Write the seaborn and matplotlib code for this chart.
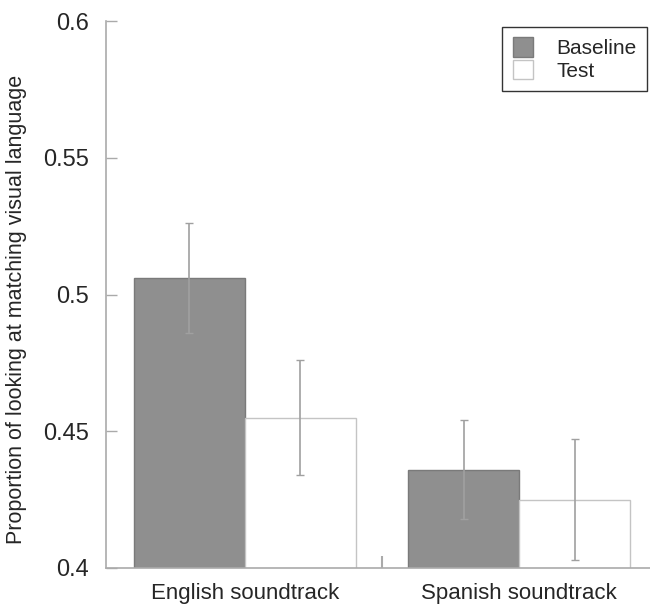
import matplotlib
matplotlib.use("Agg")
import matplotlib.pyplot as plt
import seaborn as sns
import pandas as pd
import numpy as np

# values
soundtracks = ["English soundtrack", "Spanish soundtrack"]
phases = ["Baseline", "Test"]
baseline_mean = [0.506, 0.436]
test_mean = [0.455, 0.425]
baseline_low = [0.486, 0.418]
baseline_high = [0.526, 0.454]
test_low = [0.434, 0.403]
test_high = [0.476, 0.447]

df = pd.DataFrame({
    "soundtrack": soundtracks * 2,
    "phase": [phases[0]] * 2 + [phases[1]] * 2,
    "prop": baseline_mean + test_mean,
    "low": baseline_low + test_low,
    "high": baseline_high + test_high,
})

sns.set_style("white")
plt.rcParams['font.family'] = ['Liberation Sans', 'DejaVu Sans']

fig = plt.figure(figsize=(6.5, 6.08), dpi=100)
ax = fig.add_axes([106/650, 40/608, 552/650, 547/608])

sns.barplot(data=df, x="soundtrack", y="prop", hue="phase", hue_order=phases,
            palette={"Baseline": "#8f8f8f", "Test": "#ffffff"},
            errorbar=None, width=0.81, ax=ax, legend=True)

edge_cols = {"Baseline": "#7a7a7a", "Test": "#c4c4c4"}
# error bars at the bar centres seaborn placed
for cont, ph in zip(ax.containers, phases):
    sub = df[df.phase == ph]
    for bar, (_, row) in zip(cont, sub.iterrows()):
        bar.set_edgecolor(edge_cols[ph])
        bar.set_linewidth(1.0)
        xc = bar.get_x() + bar.get_width() / 2
        ax.errorbar(xc, row.prop, yerr=[[row.prop - row.low], [row.high - row.prop]],
                    fmt="none", ecolor="#a0a0a0", elinewidth=1.2, capsize=3, capthick=1)

ax.set_ylim(0.4, 0.6)
ax.set_xlim(-0.507, 1.507)
ax.set_yticks([0.4, 0.45, 0.5, 0.55, 0.6])
ax.set_yticklabels(["0.4", "0.45", "0.5", "0.55", "0.6"])
ax.set_xticks([0.5], minor=True)
ax.tick_params(axis="y", direction="in", length=8, color="#aaaaaa", width=1,
               labelsize=17, pad=12, left=True)
ax.tick_params(axis="x", which="major", length=0, labelsize=16, pad=11)
ax.tick_params(axis="x", which="minor", direction="in", length=9, color="#aaaaaa",
               width=1.5, bottom=True)

ax.spines["top"].set_visible(False)
ax.spines["right"].set_visible(False)
for s in ["left", "bottom"]:
    ax.spines[s].set_color("#aaaaaa")
    ax.spines[s].set_linewidth(1.2)

ax.set_xlabel("")
ax.set_ylabel("Proportion of looking at matching visual language", fontsize=15.5)
ax.yaxis.set_label_coords(-0.143, 0.472)

leg = ax.legend(loc="upper right", bbox_to_anchor=(647/650, 1 - 27/608),
                bbox_transform=fig.transFigure, borderaxespad=0, fancybox=False,
                frameon=True, fontsize=15, handlelength=1.0, handleheight=1.05,
                handletextpad=1.1, labelspacing=0.08, borderpad=0.5)
leg.get_frame().set_edgecolor("#333333")
leg.get_frame().set_linewidth(1.0)
leg.get_frame().set_alpha(1)
for h, ph in zip(leg.legend_handles, phases):
    h.set_edgecolor(edge_cols[ph])

fig.savefig("out.png", dpi=100)
